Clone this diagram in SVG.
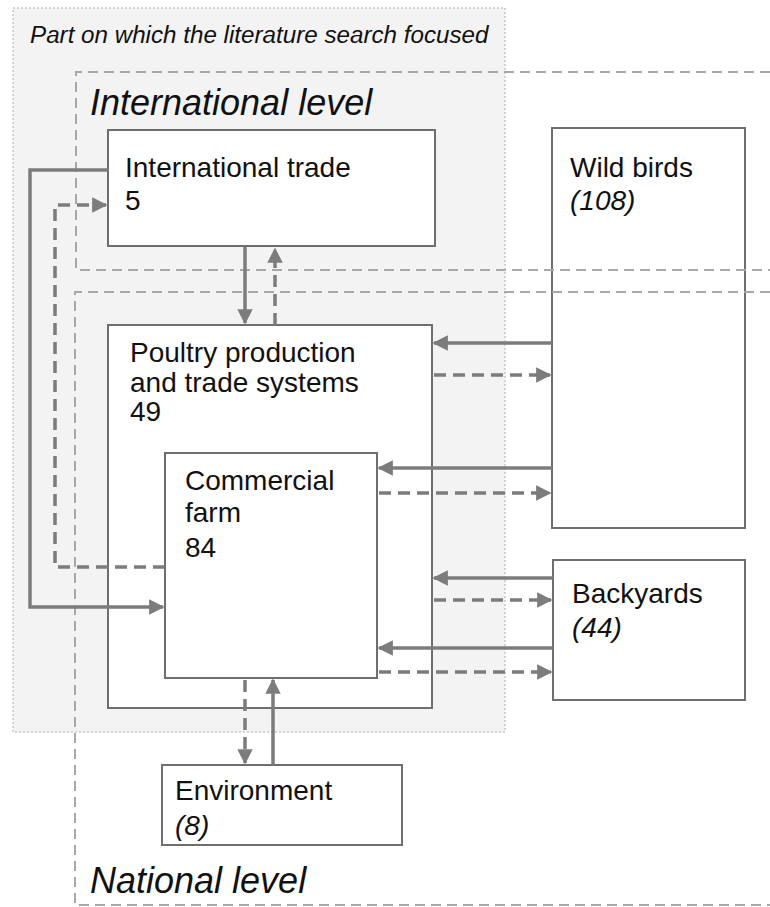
<svg xmlns="http://www.w3.org/2000/svg" width="770" height="907" viewBox="0 0 770 907">
<style>
.t{font-family:"Liberation Sans",Arial,sans-serif;fill:#111}
.n{font-size:28px}
.i{font-style:italic}
.box{fill:#fff;stroke:#6e6e6e;stroke-width:2}
.lvl{fill:none;stroke:#a8a8a8;stroke-width:2;stroke-dasharray:10 6}
.s{fill:none;stroke:#7c7c7c;stroke-width:3.5}
.d{fill:none;stroke:#7c7c7c;stroke-width:3.5;stroke-dasharray:12 7}
</style>
<defs>
<marker id="ah" viewBox="0 0 10 10" refX="9" refY="5" markerWidth="4.4" markerHeight="4.4" orient="auto" markerUnits="strokeWidth">
<path d="M0,0 L10,5 L0,10 z" fill="#7c7c7c"/>
</marker>
</defs>
<rect width="770" height="907" fill="#fff"/>
<g id="focus">
<rect x="13" y="8" width="492" height="724" fill="#f3f3f3" stroke="#c8c8c8" stroke-width="1.5" stroke-dasharray="2 2"/>
<text class="t i" x="30" y="43" font-size="24.2">Part on which the literature search focused</text>
</g>
<g id="international-trade">
<rect class="box" x="108" y="130" width="327" height="116"/>
<text class="t n" x="125" y="177">International trade</text>
<text class="t n" x="125" y="210">5</text>
</g>
<g id="wild-birds">
<rect class="box" x="552" y="128" width="193" height="400"/>
<text class="t n" x="570" y="177">Wild birds</text>
<text class="t n i" x="570" y="210">(108)</text>
</g>
<g id="poultry">
<rect class="box" x="108" y="325" width="324" height="383"/>
<text class="t n" x="130" y="362">Poultry production</text>
<text class="t n" x="130" y="392">and trade systems</text>
<text class="t n" x="130" y="421">49</text>
</g>
<g id="commercial-farm">
<rect class="box" x="165" y="453" width="212" height="225"/>
<text class="t n" x="185" y="490">Commercial</text>
<text class="t n" x="185" y="522">farm</text>
<text class="t n" x="185" y="557">84</text>
</g>
<g id="backyards">
<rect class="box" x="553" y="560" width="192" height="140"/>
<text class="t n" x="572" y="603">Backyards</text>
<text class="t n i" x="572" y="637">(44)</text>
</g>
<g id="environment">
<rect class="box" x="162" y="765" width="240" height="80"/>
<text class="t n" x="175" y="800">Environment</text>
<text class="t n i" x="175" y="835">(8)</text>
</g>
<g id="international-level">
<path class="lvl" d="M770,72 H76 V270 H770"/>
<text class="t i" x="90" y="115" font-size="36">International level</text>
</g>
<g id="national-level">
<path class="lvl" d="M770,292 H75 V905 H770"/>
<text class="t i" x="90" y="893" font-size="36">National level</text>
</g>
<g id="connectors">
<path class="s" d="M245,247 V323" marker-end="url(#ah)"/>
<path class="d" d="M275,325 V249" marker-end="url(#ah)"/>
<path class="s" d="M108,170 H30 V607 H163" marker-end="url(#ah)"/>
<path class="d" d="M165,567 H55 V205 H106" marker-end="url(#ah)"/>
<path class="s" d="M552,343 H434" marker-end="url(#ah)"/>
<path class="d" d="M434,375 H550" marker-end="url(#ah)"/>
<path class="s" d="M552,468 H379" marker-end="url(#ah)"/>
<path class="d" d="M379,493 H550" marker-end="url(#ah)"/>
<path class="s" d="M553,578 H434" marker-end="url(#ah)"/>
<path class="d" d="M434,600 H551" marker-end="url(#ah)"/>
<path class="s" d="M553,648 H379" marker-end="url(#ah)"/>
<path class="d" d="M379,672 H551" marker-end="url(#ah)"/>
<path class="d" d="M245,680 V763" marker-end="url(#ah)"/>
<path class="s" d="M273,765 V680" marker-end="url(#ah)"/>
</g>
</svg>
